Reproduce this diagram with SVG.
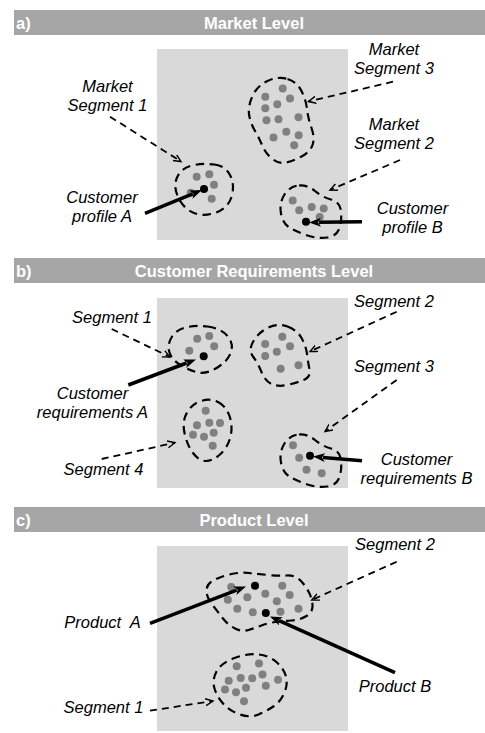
<svg xmlns="http://www.w3.org/2000/svg" width="485" height="733" viewBox="0 0 485 733">
<style>
.bar{fill:#a6a6a6}
.hd{font-family:"Liberation Sans",Arial,sans-serif;font-weight:bold;font-size:16.5px;fill:#fff}
.box{fill:#d9d9d9}
.lbl{font-family:"Liberation Sans",Arial,sans-serif;font-style:italic;font-size:16.5px;fill:#000;text-anchor:middle}
.dot{fill:#808080}
.bd{fill:#000}
.ol{fill:none;stroke:#000;stroke-width:2.2;stroke-dasharray:8.5 5.5}
.sa{fill:none;stroke:#000;stroke-width:3.5;marker-end:url(#head)}
.da{fill:none;stroke:#000;stroke-width:1.8;stroke-dasharray:7 5;marker-end:url(#chev)}
</style>
<defs>
<marker id="head" markerUnits="userSpaceOnUse" markerWidth="14" markerHeight="10" refX="2" refY="4.5" orient="auto">
<path d="M0,0 L12,4.5 L0,9 L3,4.5 z" fill="#000"/>
</marker>
<marker id="chev" markerUnits="userSpaceOnUse" markerWidth="10" markerHeight="10" refX="7.5" refY="4" orient="auto">
<path d="M0,0.5 L7.5,4 L0,7.5" fill="none" stroke="#000" stroke-width="1.4"/>
</marker>
</defs>

<!-- Panel a -->
<g id="panel-a">
<rect class="bar" x="14" y="10" width="471" height="25"/>
<text class="hd" x="16" y="29">a)</text>
<text class="hd" x="254" y="29" text-anchor="middle">Market Level</text>
<rect class="box" x="157" y="49" width="191" height="191"/>
</g>
<g id="a-seg3">
<path class="ol" d="M287.5,79 Q297,82 301.5,91 Q306,100 307,109 Q308,118 311.5,128 Q315,138 312.5,145 Q310,152 301.5,156.5 Q293,161 286,162.5 Q279,164 272.5,159 Q266,154 262.5,146 Q259,138 254.5,130 Q250,122 249,114 Q248,106 252.5,96 Q257,86 267.5,81 Q278,76 287.5,79 Z"/>
<circle class="dot" cx="282.7" cy="88.5" r="4"/><circle class="dot" cx="265.3" cy="96.7" r="4"/><circle class="dot" cx="290" cy="98.5" r="4"/>
<circle class="dot" cx="265.3" cy="108.3" r="4"/><circle class="dot" cx="277.3" cy="104.2" r="4"/><circle class="dot" cx="266.5" cy="120.3" r="4"/>
<circle class="dot" cx="278.5" cy="119.2" r="4"/><circle class="dot" cx="298.5" cy="117.3" r="4"/><circle class="dot" cx="273.5" cy="137.5" r="4"/>
<circle class="dot" cx="286.3" cy="131.7" r="4"/><circle class="dot" cx="298.7" cy="135.2" r="4"/><circle class="dot" cx="294.2" cy="145.2" r="4"/>
</g>
<g id="a-seg1">
<path class="ol" d="M214.5,164.5 Q226,166 230.5,176 Q235,186 231.5,197 Q228,208 216,212.5 Q204,217 194,213 Q184,209 178.5,198 Q173,187 177,177.5 Q181,168 192,165.5 Q203,163 214.5,164.5 Z"/>
<circle class="dot" cx="196.7" cy="176.7" r="4"/><circle class="dot" cx="209.3" cy="174.3" r="4"/><circle class="dot" cx="214" cy="184.7" r="4"/>
<circle class="dot" cx="190.7" cy="192.7" r="4"/><circle class="dot" cx="211.7" cy="198.7" r="4"/><circle class="bd" cx="204" cy="189" r="4"/>
</g>
<g id="a-seg2">
<path class="ol" d="M299,185.5 Q308,185 315,191 Q322,197 331,199.5 Q340,202 341,211 Q342,220 339.5,228 Q337,236 327.5,237.5 Q318,239 307.5,235.5 Q297,232 290,228 Q283,224 281,213.5 Q279,203 284.5,194.5 Q290,186 299,185.5 Z"/>
<circle class="dot" cx="292.7" cy="200.5" r="4"/><circle class="dot" cx="299.2" cy="210.2" r="4"/><circle class="dot" cx="311.7" cy="207" r="4"/>
<circle class="dot" cx="323.7" cy="208.5" r="4"/><circle class="dot" cx="319.7" cy="217" r="4"/><circle class="bd" cx="306" cy="221.7" r="4"/>
</g>
<g id="a-labels">
<text class="lbl" x="107.5" y="91.7">Market</text><text class="lbl" x="107.5" y="110.7">Segment 1</text>
<text class="lbl" x="102" y="203">Customer</text><text class="lbl" x="102" y="222">profile A</text>
<text class="lbl" x="394" y="55">Market</text><text class="lbl" x="394" y="73.5">Segment 3</text>
<text class="lbl" x="394" y="130">Market</text><text class="lbl" x="394" y="149">Segment 2</text>
<text class="lbl" x="412.5" y="214">Customer</text><text class="lbl" x="412.5" y="232.7">profile B</text>
</g>

<!-- Panel b -->
<g id="panel-b">
<rect class="bar" x="14" y="258" width="471" height="25"/>
<text class="hd" x="16" y="277">b)</text>
<text class="hd" x="254" y="277" text-anchor="middle">Customer Requirements Level</text>
<rect class="box" x="157" y="298" width="191" height="190"/>
</g>
<g id="b-seg1">
<path class="ol" d="M207.5,326.5 Q220,328 227,335.5 Q234,343 231,352 Q228,361 217.5,367.5 Q207,374 198.5,372.5 Q190,371 181,365.5 Q172,360 169.5,352.5 Q167,345 171.5,337.5 Q176,330 185.5,327.5 Q195,325 207.5,326.5 Z"/>
<circle class="dot" cx="197.2" cy="338.8" r="4"/><circle class="dot" cx="209.3" cy="336" r="4"/><circle class="dot" cx="214.2" cy="346.3" r="4"/>
<circle class="dot" cx="189.3" cy="350.7" r="4"/><circle class="bd" cx="203.7" cy="356.2" r="4"/>
</g>
<g id="b-seg2">
<path class="ol" d="M287.5,326.5 Q297,330 301.5,338 Q306,346 307,354 Q308,362 309.5,369.5 Q311,377 303.5,380 Q296,383 287,385 Q278,387 271.5,384 Q265,381 261.5,372 Q258,363 253,356.5 Q248,350 253.5,341 Q259,332 268.5,327.5 Q278,323 287.5,326.5 Z"/>
<circle class="dot" cx="282.3" cy="336.7" r="4"/><circle class="dot" cx="265.2" cy="344" r="4"/><circle class="dot" cx="290" cy="346.3" r="4"/>
<circle class="dot" cx="265.2" cy="356" r="4"/><circle class="dot" cx="276.8" cy="351.7" r="4"/><circle class="dot" cx="280.7" cy="368.8" r="4"/>
<circle class="dot" cx="298.5" cy="365.2" r="4"/>
</g>
<g id="b-seg3">
<path class="ol" transform="translate(0,249)" d="M299,185.5 Q308,185 315,191 Q322,197 331,199.5 Q340,202 341,211 Q342,220 339.5,228 Q337,236 327.5,237.5 Q318,239 307.5,235.5 Q297,232 290,228 Q283,224 281,213.5 Q279,203 284.5,194.5 Q290,186 299,185.5 Z"/>
<circle class="dot" cx="293" cy="445.3" r="4"/><circle class="dot" cx="299.2" cy="457.8" r="4"/><circle class="dot" cx="306.5" cy="469.7" r="4"/>
<circle class="dot" cx="321.7" cy="473.3" r="4"/><circle class="bd" cx="310" cy="455.8" r="4"/>
</g>
<g id="b-seg4">
<path class="ol" d="M218,402 Q226,406 229.5,416 Q233,426 230.5,436.5 Q228,447 220.5,454 Q213,461 206,461 Q199,461 193,453 Q187,445 184.5,433 Q182,421 187,412.5 Q192,404 201,401 Q210,398 218,402 Z"/>
<circle class="dot" cx="205.7" cy="410.7" r="4"/><circle class="dot" cx="197" cy="425.2" r="4"/><circle class="dot" cx="209.3" cy="422.7" r="4"/>
<circle class="dot" cx="220" cy="423" r="4"/><circle class="dot" cx="193" cy="434.7" r="4"/><circle class="dot" cx="204" cy="436.7" r="4"/>
<circle class="dot" cx="213.7" cy="432.7" r="4"/><circle class="dot" cx="212.7" cy="445.8" r="4"/>
</g>
<g id="b-labels">
<text class="lbl" x="112" y="323">Segment 1</text>
<text class="lbl" x="92.5" y="399">Customer</text><text class="lbl" x="92.5" y="418">requirements A</text>
<text class="lbl" x="394" y="306.7">Segment 2</text>
<text class="lbl" x="394" y="371.7">Segment 3</text>
<text class="lbl" x="103.5" y="475">Segment 4</text>
<text class="lbl" x="416.5" y="465">Customer</text><text class="lbl" x="416.5" y="483.5">requirements B</text>
</g>

<!-- Panel c -->
<g id="panel-c">
<rect class="bar" x="14" y="507" width="471" height="25"/>
<text class="hd" x="16" y="526">c)</text>
<text class="hd" x="254" y="526" text-anchor="middle">Product Level</text>
<rect class="box" x="157" y="546" width="191" height="185"/>
</g>
<g id="c-seg2">
<path class="ol" d="M229.5,574.5 Q240,572 249,573 Q258,574 268,575 Q278,576 286.5,575.5 Q295,575 300,580 Q305,585 308.5,591.5 Q312,598 312.5,605 Q313,612 306.5,616 Q300,620 291.5,620.5 Q283,621 275.5,622 Q268,623 261.5,625.5 Q255,628 248.5,630 Q242,632 235,628.5 Q228,625 223,618.5 Q218,612 212.5,605 Q207,598 206.5,591.5 Q206,585 212.5,581 Q219,577 229.5,574.5 Z"/>
<circle class="dot" cx="231.2" cy="587" r="4"/><circle class="dot" cx="227.8" cy="599.7" r="4"/><circle class="dot" cx="247.3" cy="597.3" r="4"/>
<circle class="dot" cx="265.3" cy="593.7" r="4"/><circle class="dot" cx="282.3" cy="585.7" r="4"/><circle class="dot" cx="289.7" cy="595" r="4"/>
<circle class="dot" cx="276.8" cy="601.2" r="4"/><circle class="dot" cx="237.3" cy="608.8" r="4"/><circle class="dot" cx="252.8" cy="612.3" r="4"/>
<circle class="dot" cx="280.5" cy="611.7" r="4"/><circle class="dot" cx="298.5" cy="608.8" r="4"/>
<circle class="bd" cx="255" cy="585.8" r="4"/><circle class="bd" cx="265.8" cy="613" r="4"/>
</g>
<g id="c-seg1">
<path class="ol" d="M259,654.5 Q270,656 277,662.5 Q284,669 286,676.5 Q288,684 284.5,692.5 Q281,701 274,706 Q267,711 258.5,714.5 Q250,718 240,714.5 Q230,711 223.5,704 Q217,697 214.5,688.5 Q212,680 216.5,671.5 Q221,663 234.5,658 Q248,653 259,654.5 Z"/>
<circle class="dot" cx="236.7" cy="666.2" r="4"/><circle class="dot" cx="259" cy="663.5" r="4"/><circle class="dot" cx="228.7" cy="680.7" r="4"/>
<circle class="dot" cx="240.7" cy="678" r="4"/><circle class="dot" cx="252.2" cy="678.3" r="4"/><circle class="dot" cx="262.5" cy="674.5" r="4"/>
<circle class="dot" cx="278" cy="679.7" r="4"/><circle class="dot" cx="225" cy="689.5" r="4"/><circle class="dot" cx="236" cy="692.3" r="4"/>
<circle class="dot" cx="246" cy="687.8" r="4"/><circle class="dot" cx="265.8" cy="685.8" r="4"/><circle class="dot" cx="244" cy="701.2" r="4"/>
</g>
<g id="c-labels">
<text class="lbl" x="395" y="550">Segment 2</text>
<text class="lbl" x="102.5" y="628" xml:space="preserve">Product  A</text>
<text class="lbl" x="395" y="691.7">Product B</text>
<text class="lbl" x="103.5" y="713">Segment 1</text>
</g>

<g id="connectors">
<line class="sa" x1="145" y1="213.3" x2="192.7" y2="193.8"/>
<line class="sa" x1="362" y1="221.7" x2="319" y2="222.3"/>
<line class="sa" x1="128.3" y1="385" x2="186.6" y2="363"/>
<line class="sa" x1="362" y1="460.7" x2="323" y2="457.4"/>
<line class="sa" x1="150" y1="623.3" x2="236.7" y2="590.1"/>
<line class="sa" x1="395" y1="672.7" x2="279.1" y2="620.6"/>
<line class="da" x1="110" y1="116.7" x2="181" y2="161.5"/>
<line class="da" x1="393" y1="81.7" x2="308.5" y2="101.5"/>
<line class="da" x1="400" y1="160" x2="330" y2="190"/>
<line class="da" x1="111.7" y1="329" x2="170" y2="357"/>
<line class="da" x1="396.7" y1="311.7" x2="310" y2="351.5"/>
<line class="da" x1="396.7" y1="380" x2="325" y2="431.5"/>
<line class="da" x1="101.7" y1="459" x2="175" y2="442.7"/>
<line class="da" x1="396.7" y1="561.7" x2="311.7" y2="600"/>
<line class="da" x1="150" y1="710.7" x2="213" y2="701"/>
</g>
</svg>
